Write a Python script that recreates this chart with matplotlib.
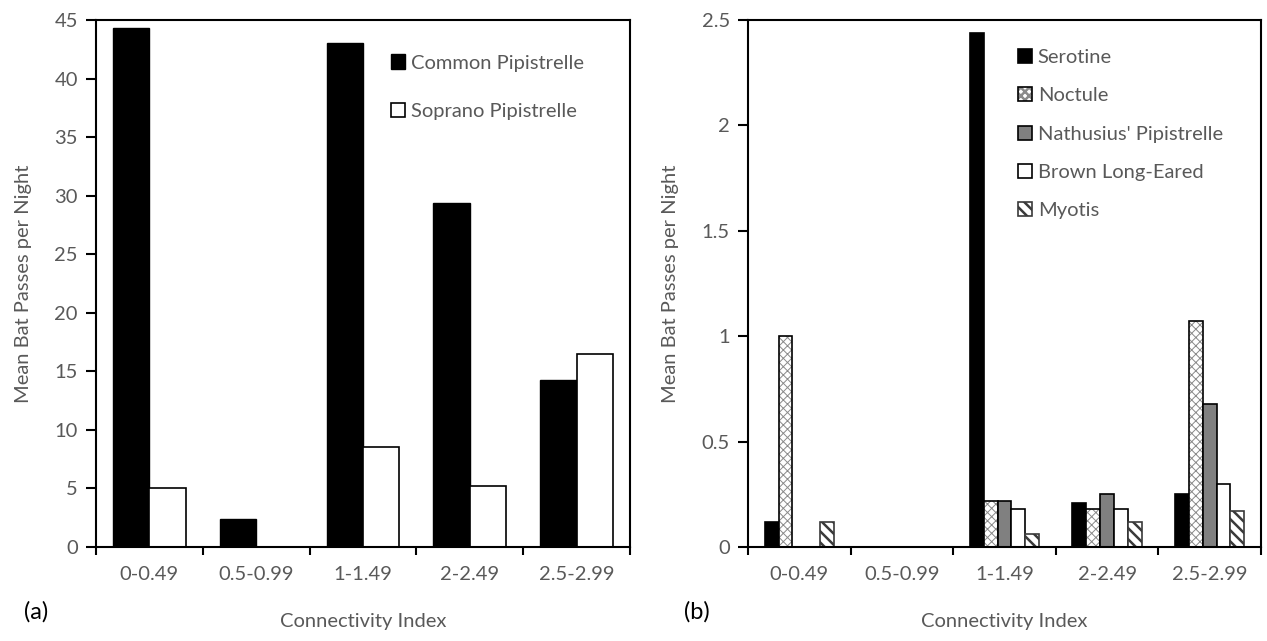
import numpy as np
from matplotlib import pyplot as plt
from matplotlib.ticker import FixedLocator

plt.rcParams['font.family'] = ['Lato', 'DejaVu Sans']
TXT = '#595959'
FS = 14.5

categories = ['0-0.49', '0.5-0.99', '1-1.49', '2-2.49', '2.5-2.99']

# panel (a)
common_pip = [44.3, 2.4, 43.0, 29.4, 14.3]
soprano_pip = [5.0, 0.0, 8.5, 5.2, 16.5]

# panel (b)
serotine = [0.12, 0.0, 2.44, 0.21, 0.25]
noctule = [1.0, 0.0, 0.22, 0.18, 1.07]
nathusius = [0.0, 0.0, 0.22, 0.25, 0.68]
brown_le = [0.0, 0.0, 0.18, 0.18, 0.30]
myotis = [0.12, 0.0, 0.06, 0.12, 0.17]

fig = plt.figure(figsize=(12.67, 6.41), dpi=100)
W, H = 1267, 641
ax1 = fig.add_axes([96 / W, 1 - 547 / H, (630 - 96) / W, (547 - 20) / H])
ax2 = fig.add_axes([748 / W, 1 - 547 / H, (1261 - 748) / W, (547 - 20) / H])

x = np.arange(len(categories))


def style_axis(ax, ymax, ystep):
    ax.set_xlim(-0.5, len(categories) - 0.5)
    ax.set_ylim(0, ymax)
    yt = np.arange(0, ymax + ystep / 2, ystep)
    ax.set_yticks(yt)
    ax.set_yticklabels([('%g' % v) for v in yt])
    ax.set_xticks(x)
    ax.set_xticklabels(categories)
    ax.xaxis.set_minor_locator(FixedLocator(np.arange(-0.5, len(categories), 1.0)))
    ax.tick_params(axis='x', which='major', length=0, pad=14, labelsize=FS, labelcolor=TXT)
    ax.tick_params(axis='x', which='minor', length=6, width=1.5, direction='out')
    ax.tick_params(axis='y', length=7, width=1.5, direction='out', labelsize=FS,
                   labelcolor=TXT, pad=6)
    for s in ax.spines.values():
        s.set_linewidth(1.5)
    ax.set_ylabel('Mean Bat Passes per Night', fontsize=FS, color=TXT, labelpad=16)
    ax.set_xlabel('Connectivity Index', fontsize=FS, color=TXT, labelpad=21)


w = 0.34
ax1.bar(x - w / 2, common_pip, w, color='black', edgecolor='black', label='Common Pipistrelle')
ax1.bar(x + w / 2, soprano_pip, w, color='white', edgecolor='black', linewidth=1.2,
        label='Soprano Pipistrelle')
style_axis(ax1, 45, 5)
ax1.legend(loc='upper left', bbox_to_anchor=(0.537, 0.95), frameon=False, fontsize=FS,
           labelcolor=TXT, handlelength=0.7, handleheight=0.7, handletextpad=0.3,
           labelspacing=1.55, borderaxespad=0)

w2 = 0.135
offs = (np.arange(5) - 2) * w2
b_ser = ax2.bar(x + offs[0], serotine, w2, color='black', edgecolor='black', linewidth=1.2)
plt.rcParams['hatch.linewidth'] = 0.7
b_noc = ax2.bar(x + offs[1], noctule, w2, color='white', edgecolor='#8a8a8a', hatch='xxxx',
                linewidth=0)
b_noc_edge = ax2.bar(x + offs[1], noctule, w2, fill=False, edgecolor='black', linewidth=1.2)
b_nat = ax2.bar(x + offs[2], nathusius, w2, color='#808080', edgecolor='black', linewidth=1.2)
b_bro = ax2.bar(x + offs[3], brown_le, w2, color='white', edgecolor='black', linewidth=1.2)
plt.rcParams['hatch.linewidth'] = 1.8
b_myo = ax2.bar(x + offs[4], myotis, w2, color='white', edgecolor='#3a3a3a', hatch='\\\\\\',
                linewidth=1.2)
style_axis(ax2, 2.5, 0.5)
ax2.legend([b_ser, (b_noc, b_noc_edge), b_nat, b_bro, b_myo],
           ['Serotine', 'Noctule', "Nathusius' Pipistrelle", 'Brown Long-Eared', 'Myotis'],
           loc='upper left', bbox_to_anchor=(0.51, 0.96), frameon=False, fontsize=FS,
           labelcolor=TXT, handlelength=0.7, handleheight=0.7, handletextpad=0.3,
           labelspacing=1.05, borderaxespad=0)

fig.text(24 / W, 1 - 612 / H, '(a)', fontsize=17, color='black', va='center')
fig.text(684 / W, 1 - 612 / H, '(b)', fontsize=17, color='black', va='center')

fig.savefig('out.png', dpi=100)
